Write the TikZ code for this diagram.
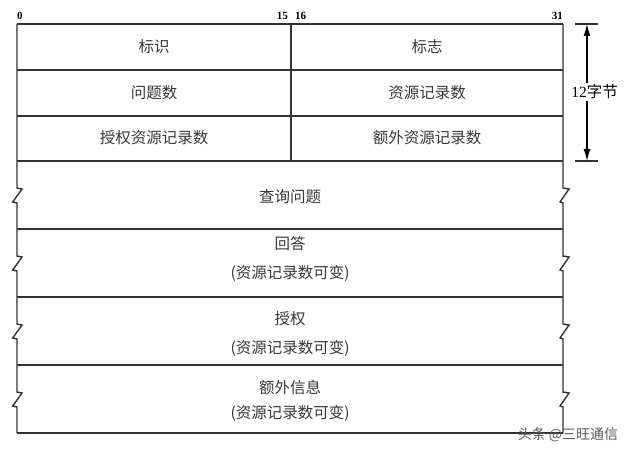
\documentclass[tikz,border=0pt]{standalone}
\usepackage{fontspec}
\setmainfont{Liberation Serif}
\newfontfamily\cjk{Noto Sans CJK SC}
\usetikzlibrary{arrows.meta}

\begin{document}
\begin{tikzpicture}[x=1pt,y=-1pt,
		frame/.style={line width=1.4pt,draw=black!80},
		field/.style={font=\cjk\fontsize{15.5}{17}\selectfont,text=black!78,inner sep=0pt},
		bitno/.style={font=\bfseries\fontsize{11}{13}\selectfont,inner sep=0pt},
		dim/.style={line width=1.2pt,draw=black,-{Latex[length=12pt,width=7pt]}},
		tick/.style={line width=1.2pt,draw=black!80}]
	\useasboundingbox (0,0) rectangle (640,457);
	\foreach \y in {24,70,116,161,229,297,365,433}
		\draw[frame] (17,\y) -- (563,\y);
	\draw[frame] (291,24) -- (291,161);
	\draw[frame] (17,24) \foreach \y in {195,263,331,399} {-- (17,\y-7) -- (22,\y-6) -- (12.7,\y+7) -- (17,\y+8)} -- (17,433);
	\draw[frame] (563,24) \foreach \y in {195,263,331,399} {-- (563,\y-7) -- (569,\y-6) -- (560,\y+7) -- (563,\y+8)} -- (563,433);
	\node[bitno,anchor=base west] (b0) at (17,20) {0};
	\node[bitno,anchor=base east] (b15) at (288,20) {15};
	\node[bitno,anchor=base west] (b16) at (295,20) {16};
	\node[bitno,anchor=base east] (b31) at (563,20) {31};
	\node[field] (ident) at (154,47) {标识};
	\node[field] (flags) at (427,47) {标志};
	\node[field] (qdcount) at (154,93) {问题数};
	\node[field] (ancount) at (427,93) {资源记录数};
	\node[field] (nscount) at (154,138) {授权资源记录数};
	\node[field] (arcount) at (427,138) {额外资源记录数};
	\node[field] (question) at (290,197) {查询问题};
	\node[field] (answer) at (290,244) {回答};
	\node[field] (answervar) at (290,273) {(资源记录数可变)};
	\node[field] (auth) at (290,319) {授权};
	\node[field] (authvar) at (290,348) {(资源记录数可变)};
	\node[field] (extra) at (290,388) {额外信息};
	\node[field] (extravar) at (290,413) {(资源记录数可变)};
	\coordinate (dimtop) at (587,24);
	\coordinate (dimbot) at (587,161);
	\draw[tick] (575,24) -- (598,24);
	\draw[tick] (575,161) -- (598,161);
	\node[field,text=black,inner sep=2pt] (size) at (594.5,92) {{\rmfamily 12}字节};
	\draw[dim] (size.north -| dimtop) -- (dimtop);
	\draw[dim] (size.south -| dimbot) -- (dimbot);
	\node[field,font=\cjk\fontsize{14}{15}\selectfont,text=black!65] (mark) at (568,435) {头条 @三旺通信};
\end{tikzpicture}
\end{document}
